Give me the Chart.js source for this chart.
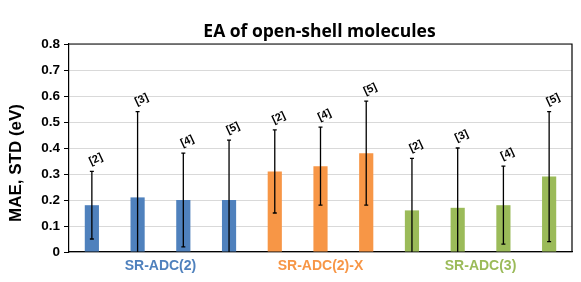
<!DOCTYPE html>
<html><head><meta charset="utf-8">
<script src="https://cdn.jsdelivr.net/npm/chart.js@4.4.1/dist/chart.umd.min.js"></script>
<style>html,body{margin:0;padding:0;background:#fff;}#wrap{width:581px;height:282px;}</style>
</head><body><div id="wrap"><canvas id="c" width="581" height="282"></canvas></div>
<script>
const categories = ["SR-ADC(2) [2]","SR-ADC(2) [3]","SR-ADC(2) [4]","SR-ADC(2) [5]","SR-ADC(2)-X [2]","SR-ADC(2)-X [4]","SR-ADC(2)-X [5]","SR-ADC(3) [2]","SR-ADC(3) [3]","SR-ADC(3) [4]","SR-ADC(3) [5]"];
const basisLabels = ["[2]","[3]","[4]","[5]","[2]","[4]","[5]","[2]","[3]","[4]","[5]"];
const groupOf = [0,0,0,0,1,1,1,2,2,2,2];
const groupNames = ["SR-ADC(2)","SR-ADC(2)-X","SR-ADC(3)"];
const groupColors = ["#4F81BD","#F79646","#9BBB59"];
const mae = [0.18,0.21,0.20,0.20,0.31,0.33,0.38,0.16,0.17,0.18,0.29];
const errLow = [0.05,0.00,0.02,0.00,0.15,0.18,0.18,0.00,0.00,0.03,0.04];
const errHigh = [0.31,0.54,0.38,0.43,0.47,0.48,0.58,0.36,0.40,0.33,0.54];
const yTicks = [0,0.1,0.2,0.3,0.4,0.5,0.6,0.7,0.8];

const overlay = {
  id:'overlay',
  afterDatasetsDraw(chart){
    const {ctx, scales:{x,y}, chartArea:a} = chart;
    ctx.save();
    ctx.strokeStyle='#000'; ctx.lineWidth=1.3;
    mae.forEach((v,i)=>{
      const px=x.getPixelForValue(i);
      const t=y.getPixelForValue(errHigh[i]), b=y.getPixelForValue(errLow[i]);
      ctx.beginPath(); ctx.moveTo(px,t); ctx.lineTo(px,b);
      ctx.moveTo(px-2,t); ctx.lineTo(px+2,t);
      if(errLow[i]>0){ctx.moveTo(px-2,b); ctx.lineTo(px+2,b);}
      ctx.stroke();
      ctx.save();
      ctx.translate(px+4, t-12);
      ctx.rotate(-25*Math.PI/180);
      ctx.fillStyle='#000'; ctx.font='bold 11px "Liberation Sans", Arial';
      ctx.textAlign='center'; ctx.textBaseline='middle';
      ctx.fillText(basisLabels[i],0,0);
      ctx.restore();
    });
    ctx.strokeStyle='#000'; ctx.lineWidth=1.2;
    ctx.beginPath(); ctx.moveTo(a.left,a.top); ctx.lineTo(a.right,a.top); ctx.lineTo(a.right,a.bottom); ctx.stroke();
    ctx.font='bold 14px "Liberation Sans", Arial'; ctx.textAlign='center'; ctx.textBaseline='middle';
    groupNames.forEach((g,gi)=>{
      const idx=groupOf.map((v,i)=>v===gi?i:-1).filter(i=>i>=0);
      const cx=(x.getPixelForValue(idx[0])+x.getPixelForValue(idx[idx.length-1]))/2;
      ctx.fillStyle=groupColors[gi];
      ctx.fillText(g,cx,a.bottom+14);
    });
    ctx.fillStyle='#000'; ctx.font='bold 17.5px "Open Sans", "Liberation Sans"';
    ctx.fillText("EA of open-shell molecules",(a.left+a.right)/2-1,32);
    ctx.save(); ctx.translate(16,163); ctx.rotate(-Math.PI/2);
    ctx.font='bold 17px "Liberation Sans", Arial';
    ctx.fillText("MAE, STD (eV)",0,0);
    ctx.restore();
    ctx.restore();
  }
};

new Chart(document.getElementById('c'),{
  type:'bar',
  data:{labels:categories,datasets:[{data:mae,backgroundColor:groupOf.map(g=>groupColors[g]),barPercentage:0.31,categoryPercentage:1}]},
  options:{
    responsive:false,animation:false,
    layout:{padding:{top:44,right:9,bottom:30,left:0}},
    plugins:{legend:{display:false},tooltip:{enabled:false},title:{display:false}},
    scales:{
      x:{ticks:{display:false},grid:{display:false,drawTicks:false},border:{color:'#000',width:1.2}},
      y:{min:0,max:0.8,
        afterFit(s){s.width=69;},
        afterBuildTicks(s){s.ticks=yTicks.map(v=>({value:v}));},
        ticks:{font:{family:'"Liberation Sans", Arial',weight:'bold',size:13.5},color:'#000',padding:4,
          callback:v=>v===0?'0':v.toFixed(1)},
        grid:{color:'#d9d9d9',tickColor:'#000',tickLength:5,lineWidth:1},
        border:{color:'#000',width:1.2}}
    }
  },
  plugins:[overlay]
});
</script></body></html>
